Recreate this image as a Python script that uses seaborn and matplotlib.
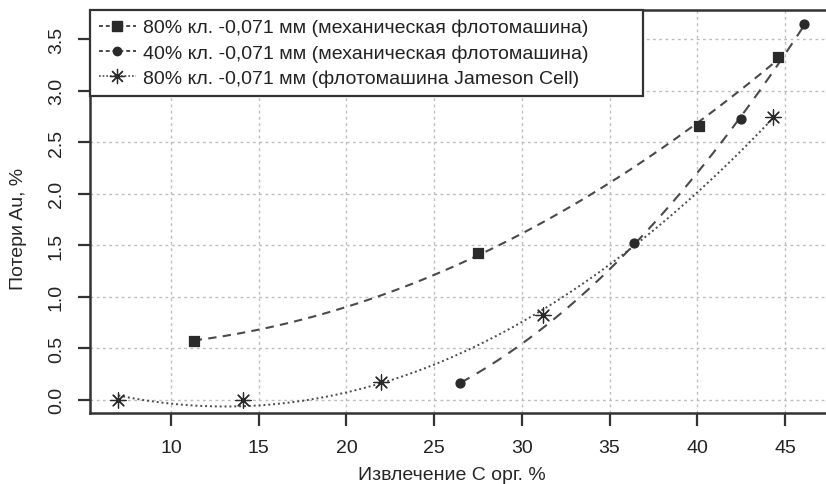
import numpy as np
import pandas as pd
import seaborn as sns
import matplotlib.pyplot as plt
from matplotlib.lines import Line2D

# 80% class -0.071 mm, mechanical cell
x_sq = [11.3, 27.5, 40.1, 44.6]
y_sq = [0.57, 1.42, 2.66, 3.33]
# 40% class -0.071 mm, mechanical cell
x_ci = [26.5, 36.4, 42.5, 46.1]
y_ci = [0.16, 1.52, 2.73, 3.65]
# 80% class -0.071 mm, Jameson Cell
x_st = [7.0, 14.1, 22.0, 31.2, 44.3]
y_st = [0.00, 0.00, 0.17, 0.82, 2.75]

labels = ["80% кл. -0,071 мм (механическая флотомашина)",
          "40% кл. -0,071 мм (механическая флотомашина)",
          "80% кл. -0,071 мм (флотомашина Jameson Cell)"]
x_ticks = [10, 15, 20, 25, 30, 35, 40, 45]
y_ticks = [0.0, 0.5, 1.0, 1.5, 2.0, 2.5, 3.0, 3.5]

sns.set_theme(style="white")
plt.rcParams['font.family'] = ['Liberation Sans', 'DejaVu Sans']
plt.rcParams['text.color'] = '#222222'

line_c = '#4a4a4a'
mark_c = '#2a2a2a'
asterisk = (8, 2, 0)

fig = plt.figure(figsize=(8.26, 4.85), dpi=100)
ax = fig.add_axes([90/826, 1-414/485, 1-90/826, (414-11)/485])

series = [
    (x_sq, y_sq, 's', 50, (0, (4, 3)), 1.5),
    (x_ci, y_ci, 'o', 42, (0, (5, 4)), 1.5),
    (x_st, y_st, asterisk, 120, (0, (1, 1.5)), 1.4),
]
for xs, ys, mk, sz, ls, lw in series:
    sns.regplot(x=np.array(xs), y=np.array(ys), order=2, ci=None, ax=ax,
                marker=mk, truncate=True,
                scatter_kws=dict(s=sz, color=mark_c, alpha=1, linewidths=0.9, zorder=3),
                line_kws=dict(color=line_c, lw=lw, linestyle=ls))

ax.set_xlim(5.383, 47.34)
ax.set_ylim(-0.131, 3.786)
ax.set_xticks(x_ticks)
ax.set_yticks(y_ticks)
ax.set_xticklabels([str(t) for t in x_ticks])
ax.set_yticklabels([f"{t:.1f}" for t in y_ticks], rotation=90, va='center')
ax.grid(True, color='#bdbdbd', linestyle=(0, (2, 2.5)), linewidth=1)
ax.set_axisbelow(True)

for side in ['left', 'bottom', 'top']:
    ax.spines[side].set_color('#333333')
    ax.spines[side].set_linewidth(1.8)
ax.spines['right'].set_visible(False)
ax.tick_params(axis='both', direction='out', length=9, width=1.6,
               color='#333333', labelsize=14, labelcolor='#222222',
               bottom=True, left=True)
ax.tick_params(axis='x', pad=10)
ax.tick_params(axis='y', pad=9)

ax.set_xlabel("Извлечение С орг. %", fontsize=14)
ax.set_ylabel("Потери Au, %", fontsize=14)
ax.xaxis.set_label_coords((452-90)/736, -0.132)
ax.xaxis.label.set_va('top')
ax.yaxis.set_label_coords(-0.085, 0.46)

handles = [
    Line2D([], [], color=line_c, lw=1.4, linestyle=(0, (2, 1.5)), marker='s',
           markersize=7, markerfacecolor=mark_c, markeredgecolor=mark_c),
    Line2D([], [], color=line_c, lw=1.4, linestyle=(0, (2, 1.5)), marker='o',
           markersize=6, markerfacecolor=mark_c, markeredgecolor=mark_c),
    Line2D([], [], color=line_c, lw=1.2, linestyle=(0, (1, 1.2)), marker=asterisk,
           markersize=11, markeredgewidth=0.9, markerfacecolor=mark_c,
           markeredgecolor=mark_c),
]
leg = ax.legend(handles, labels, loc='upper left',
                bbox_to_anchor=(0, 0, (643-90)/736, 1), mode='expand',
                fontsize=14, frameon=True, fancybox=False,
                handlelength=1.9, handletextpad=0.4, labelspacing=0.4,
                borderpad=0.45, borderaxespad=0, framealpha=1)
leg.get_frame().set_edgecolor('#333333')
leg.get_frame().set_linewidth(1.6)

fig.savefig("out.png", dpi=100)
